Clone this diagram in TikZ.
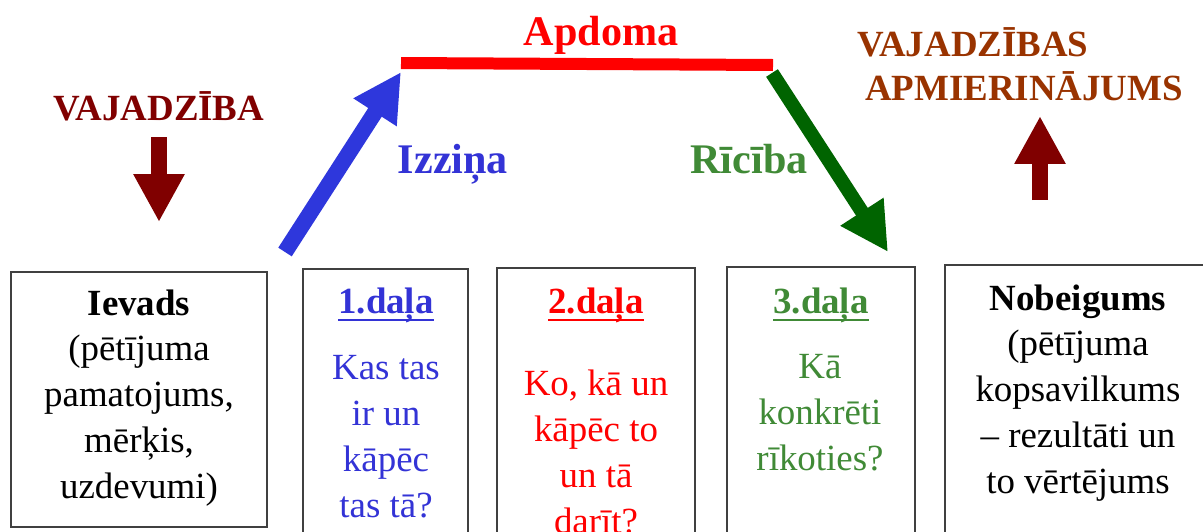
\documentclass[tikz,border=0pt]{standalone}
\usepackage{fontspec}
\setmainfont{Liberation Serif}
\usepackage{xcolor}
\usepackage{tikz}
\usetikzlibrary{arrows.meta}

\definecolor{needred}{RGB}{128,0,0}
\definecolor{satbrown}{RGB}{153,51,0}
\definecolor{izblue}{RGB}{51,51,214}
\definecolor{arblue}{RGB}{46,55,220}
\definecolor{ricgreen}{RGB}{64,138,54}
\definecolor{argreen}{RGB}{0,100,0}
\definecolor{apred}{RGB}{255,0,0}

\newcommand{\thickul}[1]{\setbox0\hbox{#1}\rlap{\rule[-4.8pt]{\wd0}{1.6pt}}\box0}

\begin{document}
\begin{tikzpicture}[x=0.02cm, y=-0.02cm]
    \tikzstyle{box} = [rectangle, draw=black!75, line width=0.8pt, inner sep=0pt]
    \tikzstyle{boxtext} = [anchor=base, align=center, inner sep=0pt, font=\fontsize{21}{26}\selectfont]
    \tikzstyle{head} = [anchor=base, inner sep=0pt, font=\fontsize{21}{26}\selectfont\bfseries]
    \tikzstyle{phase} = [anchor=base, inner sep=0pt, font=\fontsize{24}{28}\selectfont\bfseries]
    \tikzstyle{fatarrow} = [line width=0.32cm, -{Triangle[length=0.96cm, width=0.96cm]}]

    \useasboundingbox (0,0) rectangle (1203,531);
    \clip (0,0) rectangle (1203,531);

    % Boxes
    \node[box, minimum width=5.12cm, minimum height=5.10cm] (ievadsbox) at (139,399.5) {};
    \node[box, minimum width=3.30cm, minimum height=5.82cm] (d1box) at (385.5,414.5) {};
    \node[box, minimum width=3.96cm, minimum height=5.84cm] (d2box) at (596,414) {};
    \node[box, minimum width=3.76cm, minimum height=5.86cm] (d3box) at (821,413.5) {};
    \node[box, minimum width=5.70cm, minimum height=5.90cm] (nobbox) at (1087.5,412.5) {};

    % Box texts (base = last line)
    \node[boxtext] (ievads) at (139,498) {\textbf{Ievads}\\(pētījuma\\pamatojums,\\mērķis,\\uzdevumi)};
    \node[head, text=izblue] (d1head) at (386,313) {\thickul{1.daļa}};
    \node[boxtext, text=izblue] (d1text) at (386,517) {Kas tas\\ir un\\kāpēc\\tas tā?};
    \node[head, text=apred] (d2head) at (596,313) {\thickul{2.daļa}};
    \node[boxtext, text=apred] (d2text) at (596,533) {Ko, kā un\\kāpēc to\\un tā\\darīt?};
    \node[head, text=ricgreen] (d3head) at (821,313) {\thickul{3.daļa}};
    \node[boxtext, text=ricgreen] (d3text) at (820,470) {Kā\\konkrēti\\rīkoties?};
    \node[boxtext] (nobeigums) at (1078,493) {\textbf{Nobeigums}\\(pētījuma\\kopsavilkums\\– rezultāti un\\to vērtējums};

    % Labels on top
    \node[head, text=needred] (need) at (159,120) {VAJADZĪBA};
    \node[phase, text=apred] (apdoma) at (601,45) {Apdoma};
    \node[phase, text=izblue] (izzina) at (453,173) {Izziņa};
    \node[phase, text=ricgreen] (riciba) at (749,173) {Rīcība};
    \node[head, text=satbrown, align=left, anchor=base west, font=\fontsize{21}{24.5}\selectfont\bfseries] (sat) at (857,100) {VAJADZĪBAS\\\hspace{4.5pt}APMIERINĀJUMS};

    % Arrows
    \coordinate (needA) at (159,137);
    \coordinate (needB) at (159,222);
    \coordinate (satA) at (1040,200);
    \coordinate (satB) at (1040,116);
    \coordinate (izA) at (285,252);
    \coordinate (izB) at (401,72);
    \coordinate (apL) at (401,63);
    \coordinate (apR) at (773,65);
    \coordinate (riA) at (772,73);
    \coordinate (riB) at (888,252);

    \draw[fatarrow, needred] (needA) -- (needB);
    \draw[fatarrow, needred] (satA) -- (satB);
    \draw[fatarrow, arblue] (izA) -- (izB);
    \draw[apred, line width=0.24cm] (apL) -- (apR);
    \draw[fatarrow, argreen, line width=0.28cm] (riA) -- (riB);

\end{tikzpicture}
\end{document}
